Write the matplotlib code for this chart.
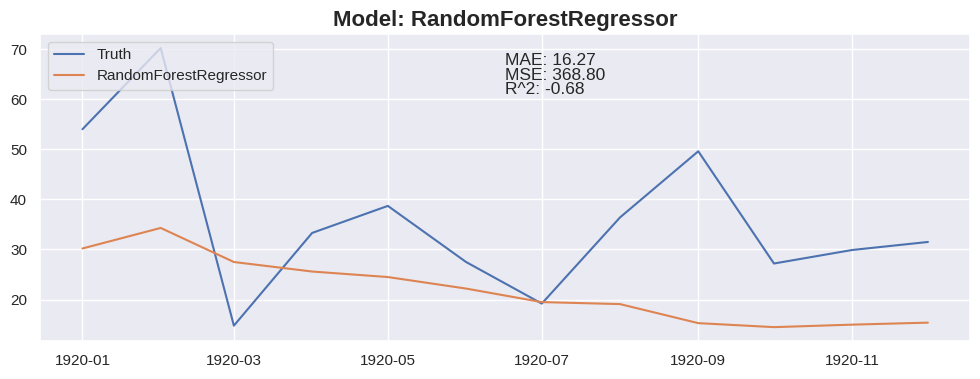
import numpy as np
import pandas as pd
import matplotlib
matplotlib.use("Agg")
import matplotlib.pyplot as plt
import matplotlib.dates as mdates
import seaborn as sns

sns.set_theme(style="darkgrid")
plt.rcParams["font.family"] = ["Liberation Sans", "DejaVu Sans"]

# monthly data, 1920
months = pd.date_range("1920-01-01", periods=12, freq="MS")
truth = [54.0, 70.2, 14.8, 33.3, 38.7, 27.5, 19.2, 36.4, 49.6, 27.2, 29.9, 31.5]
pred = [30.2, 34.3, 27.5, 25.6, 24.5, 22.2, 19.5, 19.1, 15.3, 14.5, 15.0, 15.4]
model_name = "RandomForestRegressor"
metrics = ["MAE: 16.27", "MSE: 368.80", "R^2: -0.68"]

fig, ax = plt.subplots(figsize=(9.8, 3.79), dpi=100)
ax.plot(months, truth, label="Truth")
ax.plot(months, pred, label=model_name)

ax.set_title(f"Model: {model_name}", fontsize=16, fontweight="bold")
ax.xaxis.set_major_locator(mdates.MonthLocator(bymonth=[1, 3, 5, 7, 9, 11]))
ax.xaxis.set_major_formatter(mdates.DateFormatter("%Y-%m"))
ax.legend(loc="upper left", fontsize=11)

ax.text(0.5, 0.937, "\n".join(metrics), transform=ax.transAxes,
        ha="left", va="top", fontsize=12.5, linespacing=0.95)

fig.subplots_adjust(left=0.041, right=0.99, top=0.91, bottom=0.1)
fig.savefig("out.png", dpi=100)
